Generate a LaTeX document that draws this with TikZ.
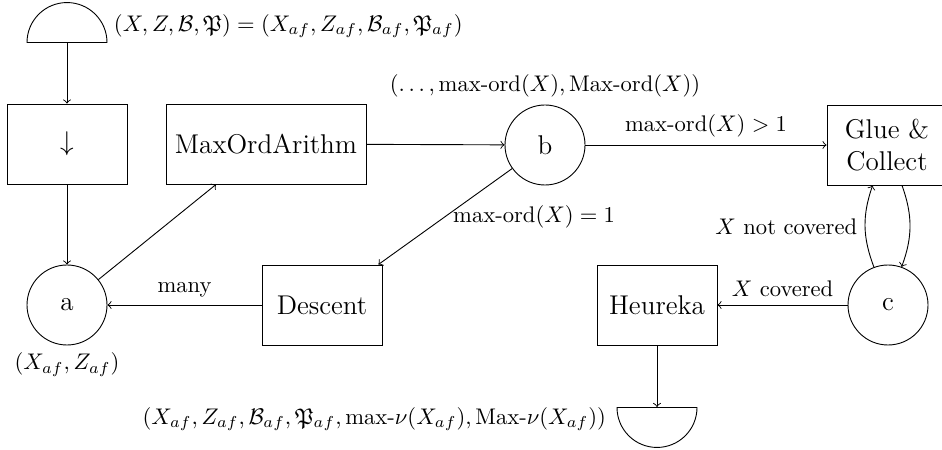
\documentclass[tikz,border=0pt]{standalone}
\usepackage{amsmath,amssymb}
\usetikzlibrary{shapes.geometric}
\begin{document}
\begin{tikzpicture}[x=0.4425pt,y=-0.4425pt,
  box/.style={draw,rectangle,minimum width=53.1pt,minimum height=35.4pt,inner sep=2pt,font=\large},
  state/.style={draw,circle,minimum size=35.4pt,inner sep=0pt,font=\large},
  term/.style={draw,semicircle,minimum width=35.4pt,minimum height=17.7pt,inner sep=0pt},
  lbl/.style={inner sep=3.33pt}]
\useasboundingbox (0,0) rectangle (942,450);
\node[term,anchor=chord center] (top) at (67,43) {};
\node[lbl,anchor=west] (toplbl) at (106,26) {$(X,Z,\mathcal{B},\mathfrak{P})=(X_{af},Z_{af},\mathcal{B}_{af},\mathfrak{P}_{af})$};
\node[box] (down) at (67,144) {$\downarrow$};
\node[box,minimum width=88.5pt] (moa) at (266,144) {MaxOrdArithm};
\node[state] (b) at (545,145) {b};
\node[lbl,anchor=south] (blbl) at (545,105) {$(\ldots,\text{max-ord}(X),\text{Max-ord}(X))$};
\node[box,align=center] (glue) at (887,145) {Glue \&\\Collect};
\node[state] (a) at (67,305) {a};
\node[lbl,anchor=north] (albl) at (67,345) {$(X_{af},Z_{af})$};
\node[box] (descent) at (322,305) {Descent};
\node[box] (heureka) at (657,305) {Heureka};
\node[state] (c) at (888,305) {c};
\node[term,shape border rotate=180,anchor=chord center] (bot) at (657,407) {};
\node[lbl,anchor=east] (botlbl) at (614,419) {$(X_{af},Z_{af},\mathcal{B}_{af},\mathfrak{P}_{af},\text{max-}\nu(X_{af}),\text{Max-}\nu(X_{af}))$};
\draw[->] (top.chord center) -- (down);
\draw[->] (down) -- (a);
\draw[->] (a) -- (moa);
\draw[->] (moa) -- (b);
\draw[->] (b) -- node[lbl,above] {$\text{max-ord}(X)>1$} (glue);
\draw[->] (b) -- node[lbl,right] {$\text{max-ord}(X)=1$} (descent);
\draw[->] (descent) -- node[lbl,above] {many} (a);
\draw[->] (glue) to[bend left=20] (c);
\draw[->] (c) to[bend left=20] node[lbl,left] {$X$ not covered} (glue);
\draw[->] (c) -- node[lbl,above] {$X$ covered} (heureka);
\draw[->] (heureka) -- (bot.chord center);
\end{tikzpicture}
\end{document}
